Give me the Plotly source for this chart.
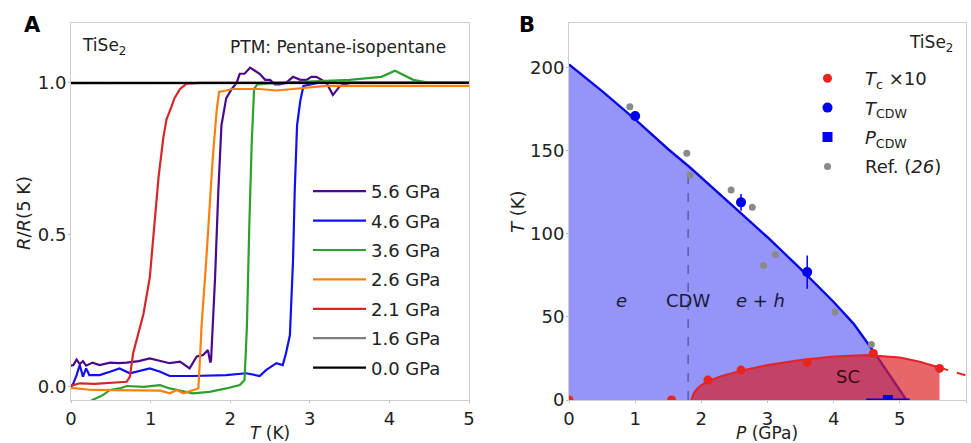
import plotly.graph_objects as go

# ---------------- Panel A data: R/R(5 K) vs T (K) ----------------
T_56 = [0, 0.03, 0.07, 0.11, 0.15, 0.19, 0.27, 0.36, 0.49, 0.6, 0.7, 0.85, 0.99, 1.1, 1.24, 1.37, 1.45, 1.49, 1.58,
        1.66, 1.72, 1.75, 1.76, 1.78, 1.81, 1.85, 1.89, 1.95, 2.02, 2.08, 2.12, 2.18, 2.25, 2.31, 2.37, 2.44, 2.5, 2.56,
        2.62, 2.7, 2.79, 2.88, 2.96, 3.02, 3.08, 3.15, 3.21, 3.29, 3.38, 3.5, 4.0, 4.5, 5.0]
R_56 = [0.07, 0.072, 0.09, 0.075, 0.085, 0.07, 0.08, 0.072, 0.08, 0.078, 0.08, 0.085, 0.094, 0.088, 0.078, 0.083, 0.07,
        0.061, 0.1, 0.105, 0.121, 0.08, 0.09, 0.2, 0.36, 0.64, 0.86, 0.95, 0.98, 1.0, 1.03, 1.03, 1.05, 1.04, 1.03, 1.01,
        1.01, 0.995, 0.995, 1.0, 1.02, 1.01, 1.01, 1.02, 1.02, 1.01, 1.0, 0.96, 0.99, 1.0, 1.0, 1.0, 1.0]

T_46 = [0, 0.03, 0.07, 0.11, 0.15, 0.19, 0.23, 0.36, 0.49, 0.61, 0.74, 0.99, 1.12, 1.24, 1.53, 1.95, 2.2, 2.37, 2.45,
        2.58, 2.66, 2.7, 2.75, 2.79, 2.81, 2.84, 2.88, 2.92, 3.1, 3.5, 4.0, 4.5, 5.0]
R_46 = [0.0, 0.012, 0.039, 0.072, 0.034, 0.061, 0.039, 0.039, 0.05, 0.061, 0.045, 0.061, 0.05, 0.036, 0.036, 0.039,
        0.045, 0.036, 0.055, 0.078, 0.072, 0.11, 0.17, 0.42, 0.64, 0.86, 0.94, 0.99, 1.0, 1.0, 1.0, 1.0, 1.0]

T_36 = [0, 0.15, 0.27, 0.4, 0.49, 0.61, 0.7, 0.91, 1.12, 1.24, 1.53, 1.74, 1.95, 2.12, 2.18, 2.21, 2.24, 2.27, 2.3,
        2.34, 2.6, 3.0, 3.5, 3.9, 4.07, 4.3, 4.5, 5.0]
R_36 = [-0.09, -0.06, -0.043, -0.027, -0.01, -0.005, 0.003, 0.0, 0.006, -0.005, -0.021, -0.016, -0.005, 0.006, 0.023,
        0.2, 0.53, 0.8, 0.98, 0.995, 1.0, 1.005, 1.01, 1.02, 1.04, 1.01, 1.0, 1.0]

T_26 = [0, 0.03, 0.27, 0.7, 1.12, 1.24, 1.33, 1.41, 1.53, 1.6, 1.62, 1.64, 1.7, 1.74, 1.78, 1.83, 1.86, 1.95, 2.03,
        2.37, 2.58, 2.79, 3.2, 4.0, 5.0]
R_26 = [-0.004, -0.004, -0.01, -0.012, -0.012, -0.021, -0.01, -0.021, -0.01, -0.005, 0.09, 0.2, 0.42, 0.58, 0.75, 0.91,
        0.97, 0.975, 0.98, 0.98, 0.975, 0.98, 0.99, 0.99, 0.99]

T_21 = [0, 0.03, 0.11, 0.3, 0.7, 0.74, 0.78, 0.82, 0.91, 0.99, 1.05, 1.1, 1.16, 1.2, 1.26, 1.3, 1.37, 1.45, 1.62,
        2.5, 3.5, 5.0]
R_21 = [0.005, 0.006, 0.012, 0.01, 0.017, 0.034, 0.11, 0.15, 0.24, 0.36, 0.53, 0.69, 0.82, 0.88, 0.92, 0.95, 0.98,
        0.997, 1.0, 1.0, 1.0, 1.0]

T_16 = [0, 1.0, 2.0, 3.0, 4.0, 5.0]
R_16 = [0.998, 0.998, 0.999, 0.999, 1.0, 1.0]

T_00 = [0, 0.5, 1.0, 1.5, 2.0, 2.5, 3.0, 3.5, 4.0, 4.5, 5.0]
R_00 = [1.0, 1.0, 0.999, 1.0, 1.0, 1.0, 1.0, 1.0, 1.0, 1.0, 1.0]

series_names = ["5.6 GPa", "4.6 GPa", "3.6 GPa", "2.6 GPa", "2.1 GPa", "1.6 GPa", "0.0 GPa"]
series_T = [T_56, T_46, T_36, T_26, T_21, T_16, T_00]
series_R = [R_56, R_46, R_36, R_26, R_21, R_16, R_00]
series_colors = ["#4b0a8c", "#1010f0", "#2ca02c", "#ff7f0e", "#d62728", "#7f7f7f", "#000000"]

# ---------------- Panel B data: phase diagram ----------------
cdw_line_P = [0, 0.5, 1.0, 1.5, 1.83, 2.0, 2.5, 3.0, 3.5, 4.0, 4.3, 4.59, 4.85, 5.1]
cdw_line_T = [202, 186, 169, 151, 140, 134, 116, 98, 79, 59, 46, 30, 15, 0]

sc_line_P = [1.85, 1.88, 1.93, 2.0, 2.1, 2.3, 2.6, 3.0, 3.5, 4.0, 4.5, 5.0, 5.3, 5.6]
sc_line_T = [0, 3.5, 6.5, 9, 11.3, 14.3, 17.6, 21, 24, 26.2, 27, 25.6, 23, 19.5]
sc_ext_P = [5.6, 5.8, 6.0]
sc_ext_T = [19.5, 17.3, 14.8]

Tc_P = [0, 1.55, 2.1, 2.6, 3.6, 4.6, 5.6]
Tc_T = [0, 0, 12, 18, 22.5, 28, 19]

Tcdw_P = [1.0, 2.6, 3.6]
Tcdw_T = [171, 119, 77]
Tcdw_err = [3, 5, 10]

Pcdw_P = [4.82]
Pcdw_T = [0]
Pcdw_err = [0.33]

ref_P = [0.92, 1.78, 1.83, 2.45, 2.77, 2.94, 3.12, 4.02, 4.57]
ref_T = [176.5, 148.5, 135.5, 126.5, 116, 81, 87.6, 53, 33.4]

dash_P = [1.8, 1.8]
dash_T = [0, 137]

FONT = "DejaVu Sans"
W, H = 971, 443
fig = go.Figure()

# Panel A traces
for name, xs, ys, col in zip(series_names, series_T, series_R, series_colors):
    fig.add_trace(go.Scatter(x=xs, y=ys, mode="lines", name=name, line=dict(color=col, width=2.2),
                             xaxis="x", yaxis="y", legend="legend", legendgroup=name))

# Panel B traces
fig.add_trace(go.Scatter(x=cdw_line_P, y=cdw_line_T, mode="lines", fill="tozeroy",
                         fillcolor="rgb(148,148,249)", line=dict(color="#0a0ae0", width=2.4),
                         xaxis="x2", yaxis="y2", showlegend=False))
fig.add_trace(go.Scatter(x=dash_P, y=dash_T, mode="lines", line=dict(color="#40407a", width=1, dash="dash"),
                         xaxis="x2", yaxis="y2", showlegend=False))
fig.add_trace(go.Scatter(x=sc_line_P, y=sc_line_T, mode="lines", fill="tozeroy",
                         fillcolor="rgba(218,30,36,0.68)", line=dict(color="#e0262c", width=2.2),
                         xaxis="x2", yaxis="y2", showlegend=False))
fig.add_trace(go.Scatter(x=sc_ext_P, y=sc_ext_T, mode="lines", line=dict(color="#e0262c", width=2, dash="dash"),
                         xaxis="x2", yaxis="y2", showlegend=False, cliponaxis=True))
fig.add_trace(go.Scatter(x=Tc_P, y=Tc_T, mode="markers", name="<i>T</i><sub>c</sub> ×10",
                         marker=dict(color="#e8241e", size=9), xaxis="x2", yaxis="y2",
                         legend="legend2", legendgroup="tc"))
fig.add_trace(go.Scatter(x=Tcdw_P, y=Tcdw_T, mode="markers", name="<i>T</i><sub>CDW</sub>",
                         marker=dict(color="#0000f0", size=10),
                         error_y=dict(type="data", array=Tcdw_err, color="#0000f0", thickness=1.5, width=0),
                         xaxis="x2", yaxis="y2", legend="legend2", legendgroup="tcdw"))
fig.add_trace(go.Scatter(x=Pcdw_P, y=Pcdw_T, mode="markers", name="<i>P</i><sub>CDW</sub>",
                         marker=dict(color="#0000f0", size=10, symbol="square"),
                         error_x=dict(type="data", array=Pcdw_err, color="#0000f0", thickness=3, width=0),
                         xaxis="x2", yaxis="y2", legend="legend2", legendgroup="pcdw"))
fig.add_trace(go.Scatter(x=ref_P, y=ref_T, mode="markers", name="Ref. (<i>26</i>)",
                         marker=dict(color="#8a8a8a", size=7), xaxis="x2", yaxis="y2",
                         legend="legend2", legendgroup="ref"))

axis_common = dict(showline=True, mirror=True, linecolor="#cfcfcf", linewidth=1, ticks="outside",
                   ticklen=2, tickcolor="#bbbbbb", tickfont=dict(family=FONT, size=18, color="#222"),
                   showgrid=False, zeroline=False, automargin=False)
ystand = dict(ticklabelstandoff=-2)

fig.update_layout(
    width=W, height=H,
    margin=dict(l=0, r=0, t=0, b=0, autoexpand=False),
    paper_bgcolor="white", plot_bgcolor="white",
    font=dict(family=FONT, size=18, color="#222"),
    xaxis=dict(domain=[71 / W, 469 / W], range=[0, 5], tickvals=[0, 1, 2, 3, 4, 5], anchor="y",
               **axis_common),
    yaxis=dict(domain=[43 / H, 420 / H], range=[-0.043, 1.197], tickvals=[0, 0.5, 1.0],
               ticktext=["0.0", "0.5", "1.0"], anchor="x", **axis_common, **ystand),
    xaxis2=dict(domain=[569 / W, 966 / W], range=[0, 6], tickvals=[0, 1, 2, 3, 4, 5, 6], anchor="y2",
                **axis_common),
    yaxis2=dict(domain=[43 / H, 420 / H], range=[0, 227], tickvals=[0, 50, 100, 150, 200], anchor="x2",
                **axis_common, **ystand),
    legend=dict(x=308 / W, y=1 - 173 / H, xanchor="left", yanchor="top", bgcolor="rgba(0,0,0,0)",
                font=dict(family=FONT, size=18, color="#222"), tracegroupgap=3, itemwidth=53,
                traceorder="grouped"),
    legend2=dict(x=790 / W, y=1 - 60 / H, xanchor="left", yanchor="top", bgcolor="rgba(0,0,0,0)",
                 font=dict(family=FONT, size=18, color="#222"), tracegroupgap=3, itemwidth=65,
                 traceorder="grouped"),
)


def pa(text, x, y, size=18, angle=0, color="#222", xanchor="center"):
    return dict(text=text, x=x / W, y=1 - y / H, xref="paper", yref="paper", showarrow=False,
                xanchor=xanchor, yanchor="middle", textangle=angle,
                font=dict(size=size, family=FONT, color=color))


def da(text, x, y, color):
    return dict(text=text, x=x, y=y, xref="x2", yref="y2", showarrow=False, xanchor="center",
                yanchor="middle", font=dict(size=18, family=FONT, color=color))


ann = [
    pa("<b>A</b>", 32, 25, size=21, color="black"),
    pa("<b>B</b>", 527, 25, size=21, color="black"),
    pa("TiSe<sub>2</sub>", 80, 47, size=17, xanchor="left"),
    pa("PTM: Pentane-isopentane", 448, 47, size=17, xanchor="right"),
    pa("<i>T</i> (K)", 270, 433, size=17),
    pa("<i>R</i>/<i>R</i>(5 K)", 24, 213, angle=-90),
    pa("<i>P</i> (GPa)", 767, 433, size=17),
    pa("<i>T</i> (K)", 517, 212, angle=-90),
    pa("TiSe<sub>2</sub>", 955, 43, size=17, xanchor="right"),
    da("<i>e</i>", 0.8, 60, "#1a1a3a"),
    da("CDW", 1.8, 60, "#1a1a3a"),
    da("<i>e</i> + <i>h</i>", 2.9, 60, "#1a1a3a"),
    da("SC", 4.22, 14, "#3a0a14"),
]
fig.update_layout(annotations=ann)

fig.write_html("out.html", config={"displayModeBar": False},
               post_script="document.body.style.margin='0px';")
